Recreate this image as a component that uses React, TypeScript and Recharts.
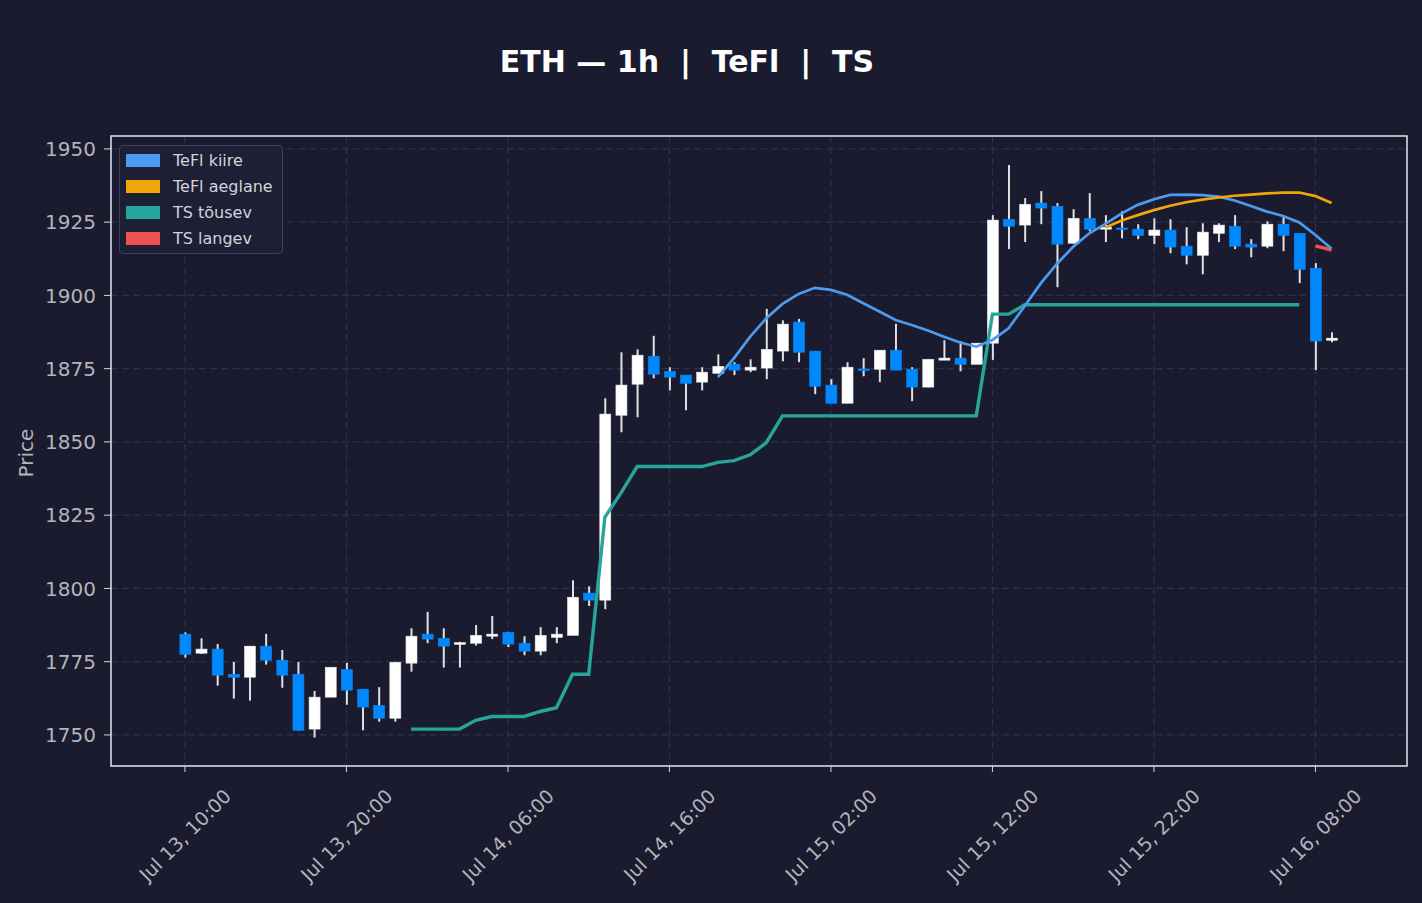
import React from 'react';
import { ComposedChart, Bar, Line, XAxis, YAxis, CartesianGrid, ReferenceArea } from 'recharts';

// hourly candles, Jul 13 10:00 -> Jul 16 09:00
const opens = [
  1784.4, 1777.9, 1779.3, 1770.7, 1769.7, 1780.3, 1775.5, 1770.7, 1752.0, 1762.9,
  1772.4, 1765.6, 1760.1, 1755.7, 1774.5, 1784.4, 1783.0, 1780.9, 1781.3, 1783.7,
  1785.0, 1781.3, 1778.6, 1783.3, 1784.0, 1798.4, 1796.0, 1859.1, 1869.7, 1879.2,
  1874.1, 1872.8, 1870.4, 1873.4, 1876.5, 1874.5, 1875.2, 1881.0, 1890.9, 1881.0,
  1869.4, 1863.2, 1874.9, 1874.8, 1881.3, 1874.8, 1868.7, 1877.9, 1878.6, 1876.5,
  1883.7, 1926.0, 1924.0, 1931.5, 1930.4, 1917.8, 1926.3, 1922.6, 1923.0, 1922.6,
  1920.5, 1922.3, 1916.8, 1913.7, 1921.2, 1923.6, 1917.5, 1916.8, 1924.3, 1921.2,
  1909.3, 1884.7,
];
const highs = [
  1785.0, 1783.0, 1781.0, 1774.9, 1780.3, 1784.5, 1779.0, 1774.9, 1765.0, 1773.1,
  1774.6, 1765.6, 1766.3, 1775.0, 1786.4, 1792.0, 1786.4, 1781.8, 1787.5, 1790.6,
  1785.2, 1783.7, 1786.8, 1786.8, 1802.8, 1800.7, 1864.9, 1880.6, 1881.6, 1886.2,
  1875.5, 1872.8, 1875.5, 1879.9, 1877.2, 1878.2, 1895.4, 1891.5, 1892.0, 1881.0,
  1871.4, 1877.2, 1878.6, 1881.3, 1890.3, 1875.5, 1878.2, 1884.7, 1884.4, 1883.7,
  1927.4, 1944.5, 1933.2, 1935.6, 1931.5, 1929.4, 1934.9, 1927.4, 1928.7, 1924.3,
  1926.3, 1926.0, 1923.3, 1924.6, 1924.6, 1927.4, 1919.2, 1925.3, 1926.7, 1921.2,
  1911.0, 1887.4,
];
const lows = [
  1776.4, 1777.6, 1766.8, 1762.4, 1761.7, 1774.0, 1766.1, 1751.5, 1749.1, 1762.9,
  1760.3, 1751.6, 1754.5, 1754.5, 1771.6, 1781.3, 1773.0, 1773.0, 1780.5, 1782.7,
  1780.0, 1777.2, 1777.2, 1781.3, 1784.0, 1794.0, 1792.9, 1853.3, 1858.4, 1871.7,
  1867.6, 1860.8, 1867.6, 1873.4, 1872.8, 1873.8, 1871.4, 1877.5, 1877.2, 1866.3,
  1863.2, 1863.2, 1872.4, 1870.4, 1874.5, 1863.9, 1868.7, 1877.9, 1874.1, 1876.5,
  1878.0, 1915.8, 1918.2, 1924.3, 1902.8, 1917.8, 1921.9, 1918.2, 1919.5, 1919.2,
  1917.5, 1914.4, 1910.6, 1907.2, 1918.2, 1915.8, 1913.0, 1916.1, 1915.1, 1904.2,
  1874.5, 1884.0,
];
const closes = [
  1777.5, 1779.3, 1770.4, 1769.7, 1780.3, 1775.5, 1770.4, 1751.6, 1762.9, 1773.1,
  1765.3, 1759.5, 1755.7, 1774.8, 1783.7, 1782.7, 1780.3, 1781.5, 1784.0, 1784.4,
  1781.0, 1778.6, 1784.0, 1784.4, 1797.0, 1796.0, 1859.5, 1869.4, 1879.6, 1873.1,
  1872.1, 1870.0, 1873.8, 1875.8, 1874.5, 1875.5, 1881.6, 1890.2, 1880.6, 1869.0,
  1863.2, 1875.5, 1874.5, 1881.3, 1874.5, 1868.7, 1878.2, 1878.6, 1876.5, 1883.7,
  1925.7, 1923.6, 1931.1, 1929.8, 1917.5, 1926.3, 1922.6, 1923.3, 1922.6, 1920.5,
  1922.3, 1916.5, 1913.7, 1921.6, 1924.0, 1916.8, 1916.5, 1924.3, 1920.5, 1908.9,
  1884.4, 1885.4,
];

const _ = null;
// TeFl kiire
const fastLine = [
  _, _, _, _, _, _, _, _, _, _, _, _, _, _, _, _, _, _, _, _,
  _, _, _, _, _, _, _, _, _, _, _, _, _, 1872.1, 1878.6, 1885.9, 1892.2, 1897.1, 1900.5, 1902.6,
  1901.9, 1900.2, 1897.3, 1894.5, 1891.6, 1889.9, 1888.0, 1885.9, 1883.9, 1882.5,
  1884.8, 1888.8, 1896.4, 1904.2, 1910.8, 1916.6, 1921.2, 1924.4, 1928.0, 1930.9,
  1932.8, 1934.3, 1934.4, 1934.2, 1933.7, 1932.4, 1930.5, 1928.6, 1927.1, 1924.9,
  1920.6, 1915.9,
];
// TeFl aeglane
const slowLine = [
  _, _, _, _, _, _, _, _, _, _, _, _, _, _, _, _, _, _, _, _,
  _, _, _, _, _, _, _, _, _, _, _, _, _, _, _, _, _, _, _, _,
  _, _, _, _, _, _, _, _, _, _, _, _, _, _, _, _, _, 1923.2, 1925.6, 1927.4,
  1929.1, 1930.6, 1931.8, 1932.7, 1933.4, 1934.0, 1934.4, 1934.8, 1935.1, 1935.1,
  1933.9, 1931.5,
];
// TS tõusev
const stopUp = [
  _, _, _, _, _, _, _, _, _, _, _, _, _, _, 1752.0, 1752.0, 1752.0, 1752.0, 1755.0, 1756.3,
  1756.3, 1756.3, 1758.0, 1759.3, 1770.7, 1770.7, 1824.3, 1832.6, 1841.6, 1841.6,
  1841.6, 1841.6, 1841.6, 1843.0, 1843.6, 1845.6, 1849.8, 1858.9, 1858.9, 1858.9,
  1858.9, 1858.9, 1858.9, 1858.9, 1858.9, 1858.9, 1858.9, 1858.9, 1858.9, 1858.9,
  1893.6, 1893.6, 1896.8, 1896.8, 1896.8, 1896.8, 1896.8, 1896.8, 1896.8, 1896.8,
  1896.8, 1896.8, 1896.8, 1896.8, 1896.8, 1896.8, 1896.8, 1896.8, 1896.8, 1896.8,
  _, _,
];
// TS langev
const stopDown = [
  _, _, _, _, _, _, _, _, _, _, _, _, _, _, _, _, _, _, _, _,
  _, _, _, _, _, _, _, _, _, _, _, _, _, _, _, _, _, _, _, _,
  _, _, _, _, _, _, _, _, _, _, _, _, _, _, _, _, _, _, _, _,
  _, _, _, _, _, _, _, _, _, _, 1916.9, 1915.5,
];

const xTicks = [0, 10, 20, 30, 40, 50, 60, 70];
const xTickLabels = [
  'Jul 13, 10:00', 'Jul 13, 20:00', 'Jul 14, 06:00', 'Jul 14, 16:00',
  'Jul 15, 02:00', 'Jul 15, 12:00', 'Jul 15, 22:00', 'Jul 16, 08:00',
];
const yTicks = [1750, 1775, 1800, 1825, 1850, 1875, 1900, 1925, 1950];

const legendItems = [
  { name: 'TeFl kiire', color: '#4d9bef' },
  { name: 'TeFl aeglane', color: '#f2a60c' },
  { name: 'TS tõusev', color: '#26a69a' },
  { name: 'TS langev', color: '#ef5350' },
];

const BG = '#1a1b2e';
const FONT = '"DejaVu Sans", sans-serif';
const X_DOMAIN = [-4.58, 75.67];
const Y_DOMAIN = [1739.4, 1954.4];

const data = opens.map((o, i) => ({
  i,
  open: o,
  high: highs[i],
  low: lows[i],
  close: closes[i],
  fast: fastLine[i],
  slow: slowLine[i],
  up: stopUp[i],
  down: stopDown[i],
}));

const Candle = (props: any) => {
  const { x, y, width, height, payload } = props;
  if (!payload) return null;
  const { open, close, high, low } = payload;
  const top = Math.min(y, y + height);
  const h = Math.abs(height);
  const ratio = high - low > 0 ? h / (high - low) : 0;
  const py = (p: number) => top + (high - p) * ratio;
  const cx = x + width / 2;
  const isUp = close >= open;
  const bTop = py(Math.max(open, close));
  const bH = Math.max(py(Math.min(open, close)) - bTop, 1.5);
  return (
    <g>
      <line x1={cx} x2={cx} y1={top} y2={top + h} stroke="#e0e0e4" strokeWidth={2} />
      <rect
        x={x}
        y={bTop}
        width={width}
        height={bH}
        fill={isUp ? '#ffffff' : '#0088ff'}
        stroke={isUp ? '#e8e8e8' : '#0a84f0'}
        strokeWidth={0.6}
      />
    </g>
  );
};

const XTick = (props: any) => {
  const { x, y, payload } = props;
  const idx = xTicks.indexOf(payload.value);
  const cy = y + 61;
  return (
    <text
      x={x}
      y={cy}
      textAnchor="middle"
      dominantBaseline="central"
      transform={`rotate(-45, ${x}, ${cy})`}
      fill="#b4b4bc"
      fontSize={19}
      fontFamily={FONT}
    >
      {xTickLabels[idx]}
    </text>
  );
};

export default function App() {
  return (
    <div style={{ position: 'absolute', left: 0, top: 0, width: 1422, height: 903, background: BG, fontFamily: FONT }}>
      <ComposedChart
        width={1422}
        height={903}
        data={data}
        margin={{ top: 136, right: 15, bottom: 0, left: 0 }}
      >
        <CartesianGrid stroke="#2d3050" strokeDasharray="7 4" strokeWidth={1.2} />
        <XAxis
          dataKey="i"
          type="number"
          domain={X_DOMAIN}
          allowDataOverflow
          ticks={xTicks}
          tick={<XTick />}
          tickSize={6}
          tickLine={{ stroke: '#d8d8dc' }}
          axisLine={false}
          height={137}
          interval={0}
        />
        <YAxis
          type="number"
          domain={Y_DOMAIN}
          allowDataOverflow
          ticks={yTicks}
          width={111}
          tickSize={7}
          tickMargin={8}
          tickLine={{ stroke: '#d8d8dc' }}
          axisLine={false}
          tick={{ fill: '#b4b4bc', fontSize: 20, fontFamily: FONT }}
          interval={0}
        />
        <Bar
          dataKey={(d: any) => [d.low, d.high]}
          barSize={11}
          shape={<Candle />}
          isAnimationActive={false}
        />
        <Line dataKey="up" type="linear" stroke="#26a69a" strokeWidth={3.4} dot={false} isAnimationActive={false} />
        <Line dataKey="down" type="linear" stroke="#ef5350" strokeWidth={3.4} dot={false} isAnimationActive={false} />
        <Line dataKey="fast" type="linear" stroke="#4d9bef" strokeWidth={2.7} dot={false} isAnimationActive={false} />
        <Line dataKey="slow" type="linear" stroke="#f2a60c" strokeWidth={2.7} dot={false} isAnimationActive={false} />
        <ReferenceArea
          x1={X_DOMAIN[0]}
          x2={X_DOMAIN[1]}
          y1={Y_DOMAIN[0]}
          y2={Y_DOMAIN[1]}
          fill="none"
          stroke="#e4e4e8"
          strokeWidth={1.5}
          ifOverflow="visible"
        />
      </ComposedChart>

      <svg width={1422} height={903} style={{ position: 'absolute', left: 0, top: 0, pointerEvents: 'none' }}>
        <text x={687} y={72} textAnchor="middle" fill="#ffffff" fontSize={30} fontWeight="bold" fontFamily={FONT} style={{ whiteSpace: 'pre' }}>
          {'ETH — 1h  |  TeFl  |  TS'}
        </text>
        <text transform="translate(33,453) rotate(-90)" textAnchor="middle" fill="#b4b4bc" fontSize={20} fontFamily={FONT}>
          Price
        </text>
      </svg>

      {/* legend, top-left of the plot */}
      <div
        style={{
          position: 'absolute',
          left: 119,
          top: 145,
          width: 162,
          height: 107,
          background: 'rgba(30,32,54,0.9)',
          border: '1px solid #3d4060',
          borderRadius: 4,
        }}
      >
        {legendItems.map((item, k) => (
          <div
            key={item.name}
            style={{
              position: 'absolute',
              left: 6,
              top: 1 + k * 26.1,
              height: 26,
              display: 'flex',
              alignItems: 'center',
            }}
          >
            <div style={{ width: 34, height: 13, background: item.color }} />
            <span style={{ marginLeft: 13, fontSize: 16, color: '#d2d2d8', whiteSpace: 'nowrap' }}>{item.name}</span>
          </div>
        ))}
      </div>
    </div>
  );
}
